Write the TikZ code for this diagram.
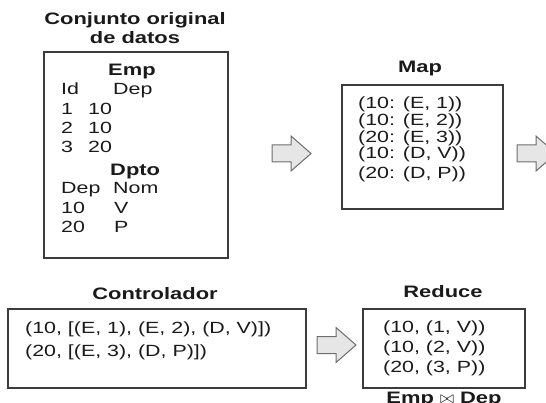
\documentclass[tikz,border=0pt]{standalone}
\usepackage{fontspec}
\setmainfont{Liberation Sans}[FakeStretch=1.32]
\definecolor{ink}{HTML}{1A1A1A}
\definecolor{boxc}{HTML}{3C3C3C}
\definecolor{arrc}{HTML}{6E6E6E}
\definecolor{arrf}{HTML}{E6E6E6}
\begin{document}
\begin{tikzpicture}[x=1pt,y=-1pt,
  txt/.style={inner sep=0,anchor=base west,font=\fontsize{16.2}{19}\selectfont,text=ink},
  ttl/.style={inner sep=0,anchor=base,font=\fontsize{16.6}{20}\selectfont\bfseries,text=ink},
  tbl/.style={inner sep=0,anchor=base west,font=\fontsize{16.6}{20}\selectfont\bfseries,text=ink},
  box/.style={draw=boxc,line width=1.2pt,inner sep=0},
  blk/.style={draw=arrc,fill=arrf,line width=1pt,line join=miter}]
\useasboundingbox (0,0) rectangle (546,403);
% boxes
\node[box,minimum width=184pt,minimum height=206pt] (orig) at (136,155) {};
\node[box,minimum width=161pt,minimum height=124pt] (map) at (422.5,147) {};
\node[box,minimum width=298pt,minimum height=79pt] (ctrl) at (157,348.5) {};
\node[box,minimum width=162pt,minimum height=79pt] (red) at (444,348.5) {};
% titles
\node[ttl] (t1a) at (135,25) {Conjunto original};
\node[ttl] (t1b) at (135,44) {de datos};
\node[ttl] (tmap) at (420,73) {Map};
\node[ttl] (tctrl) at (155,299) {Controlador};
\node[ttl] (tred) at (443,298) {Reduce};
\node[ttl] (tjoin) at (444,403) {Emp $\bowtie$ Dep};
% original data
\node[tbl] (emp) at (108,76) {Emp};
\node[txt] (h1) at (61,95) {Id};
\node[txt] (h2) at (113,95) {Dep};
\node[txt] (r1a) at (61,115) {1};
\node[txt] (r1b) at (88,115) {10};
\node[txt] (r2a) at (61,134) {2};
\node[txt] (r2b) at (88,134) {10};
\node[txt] (r3a) at (61,153) {3};
\node[txt] (r3b) at (88,153) {20};
\node[tbl] (dpto) at (110,176) {Dpto};
\node[txt] (g1) at (61,194) {Dep};
\node[txt] (g2) at (113,194) {Nom};
\node[txt] (d1a) at (61,214) {10};
\node[txt] (d1b) at (114,214) {V};
\node[txt] (d2a) at (61,233) {20};
\node[txt] (d2b) at (114,233) {P};
% map
\node[txt] (m1) at (358,109) {(10: (E, 1))};
\node[txt] (m2) at (358,126) {(10: (E, 2))};
\node[txt] (m3) at (358,143) {(20: (E, 3))};
\node[txt] (m4) at (358,159) {(10: (D, V))};
\node[txt] (m5) at (358,179) {(20: (D, P))};
% controlador
\node[txt] (c1) at (25,333) {(10, [(E, 1), (E, 2), (D, V)])};
\node[txt] (c2) at (25,356) {(20, [(E, 3), (D, P)])};
% reduce
\node[txt] (q1) at (383,332) {(10, (1, V))};
\node[txt] (q2) at (383,352) {(10, (2, V))};
\node[txt] (q3) at (383,372) {(20, (3, P))};
% block arrows
\coordinate (a1) at (272,153.5);
\coordinate (a2) at (517,153.5);
\coordinate (a3) at (317,345);
\foreach \c in {a1,a2,a3}{
  \draw[blk] (\c) ++(0,-8.5) -- ++(19,0) -- ++(0,-9) -- ++(20,17.5) -- ++(-20,17.5) -- ++(0,-9) -- ++(-19,0) -- cycle;
}
\end{tikzpicture}
\end{document}
